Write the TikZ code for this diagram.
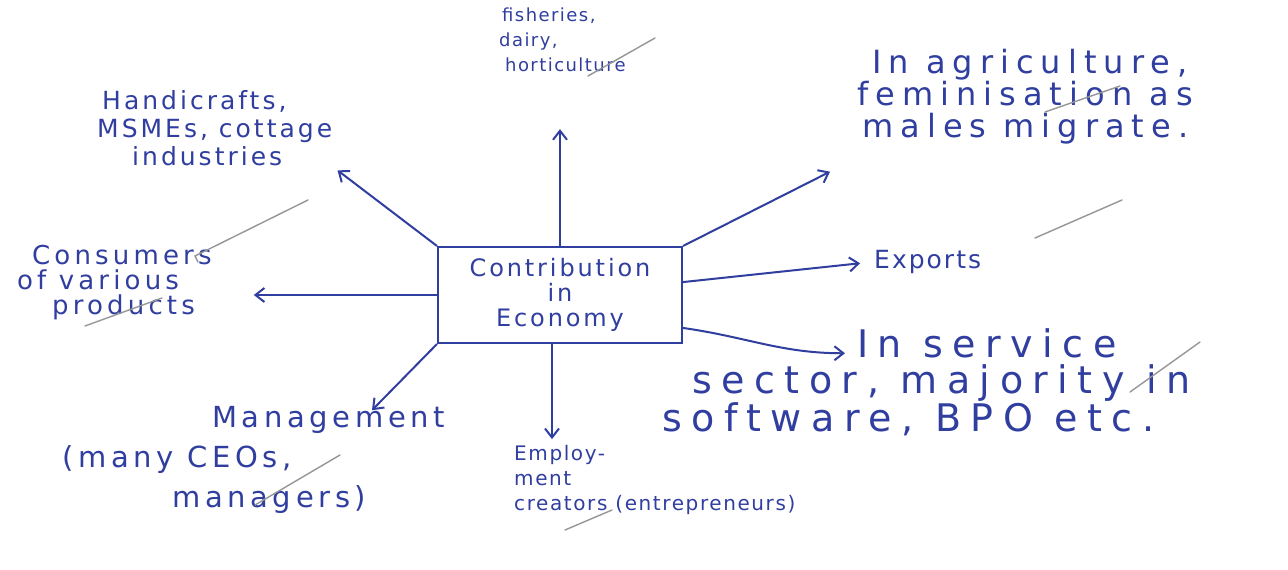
\documentclass[tikz,border=0pt]{standalone}
\usepackage{fontspec}
\setmainfont{DejaVu Sans}
\newfontfamily\hand[LetterSpace=8]{DejaVu Sans}
\newfontfamily\handmid[LetterSpace=12]{DejaVu Sans}
\newfontfamily\handwide[LetterSpace=16]{DejaVu Sans}
\newfontfamily\handagri[LetterSpace=22]{DejaVu Sans}
\newfontfamily\handserv[LetterSpace=25]{DejaVu Sans}
\usetikzlibrary{arrows.meta}
\definecolor{ink}{RGB}{48,62,160}
\definecolor{pencil}{RGB}{150,150,150}
\tikzset{
  txt/.style={text=ink, inner sep=2pt, align=left, anchor=west},
  centrebox/.style={draw=ink, line width=2pt, minimum width=244pt, minimum height=96pt, inner sep=2pt, align=center, text=ink},
  arr/.style={draw=ink, line width=2pt, -{Straight Barb[length=9pt,width=14pt,line width=2pt]}},
  tick/.style={draw=pencil, line width=1.4pt, line cap=round}
}
\begin{document}
\begin{tikzpicture}[x=1pt,y=-1pt]
\useasboundingbox[fill=white] (0,0) rectangle (1288,570);

\node[centrebox, font=\handmid\fontsize{24}{25}\selectfont] (box) at (560,295) {Contribution\\in\\Economy};

\node[txt, font=\handmid\fontsize{25}{28}\selectfont] (handi) at (95,128) {\hspace*{5pt}Handicrafts,\\MSMEs, cottage\\\hspace*{35pt}industries};
\node[txt, font=\hand\fontsize{18}{25}\selectfont] (fish) at (497,40) {\hspace*{3pt}fisheries,\\dairy,\\\hspace*{6pt}horticulture};
\node[txt, font=\handagri\fontsize{32}{32}\selectfont] (agri) at (855,97) {\hspace*{15pt}In agriculture,\\feminisation as\\\hspace*{5pt}males migrate.};
\node[txt, font=\hand\fontsize{25}{28}\selectfont] (exp) at (872,262) {Exports};
\node[txt, font=\handwide\fontsize{26}{25}\selectfont] (cons) at (15,283) {\hspace*{15pt}Consumers\\of various\\\hspace*{35pt}products};
\node[txt, font=\handserv\fontsize{38}{36}\selectfont] (serv) at (660,382) {\hspace*{195pt}In service\\\hspace*{30pt}sector, majority in\\software, BPO etc.};
\node[txt, font=\hand\fontsize{20}{25}\selectfont] (emp) at (512,480) {Employ-\\ment\\creators (entrepreneurs)};
\node[txt, font=\handwide\fontsize{29}{40}\selectfont] (mgmt) at (60,460) {\hspace*{150pt}Management\\(many CEOs,\\\hspace*{110pt}managers)};

\draw[arr, shorten >=4pt] (box.north west) -- (handi.south east);
\draw[arr, shorten >=55pt] (box.north) -- (box.north |- fish.south);
\draw[arr] (box.north east) -- ([xshift=-25pt,yshift=-25pt]agri.south west);
\draw[arr, shorten >=12pt] (box.6) -- (exp.west);
\draw[arr, shorten >=40pt] (box.west) -- (box.west -| cons.east);
\draw[arr] (box.-15) to[out=-8, in=180] ([xshift=185pt,yshift=-27pt]serv.north west);
\draw[arr] ([xshift=-8pt]box.south) -- ([xshift=-8pt,yshift=4pt]box.south |- emp.north);
\draw[arr] (box.south west) -- ([xshift=312pt,yshift=-6pt]mgmt.north west);

\draw[tick] (198,262) -- (195,256) -- (308,200);
\draw[tick] (588,76) -- (655,38);
\draw[tick] (1045,112) -- (1120,86);
\draw[tick] (1035,238) -- (1122,200);
\draw[tick] (85,326) -- (162,298);
\draw[tick] (255,505) -- (340,455);
\draw[tick] (1130,392) -- (1200,342);
\draw[tick] (565,530) -- (612,510);
\end{tikzpicture}
\end{document}
